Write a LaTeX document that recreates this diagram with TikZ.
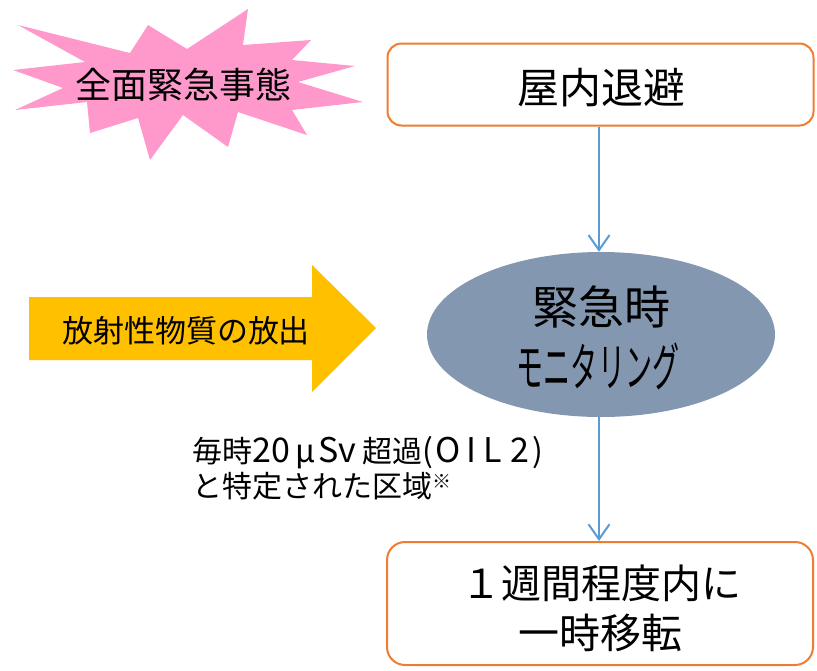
\documentclass[tikz,border=0pt]{standalone}
\usepackage{fontspec}
\usetikzlibrary{arrows.meta,shapes.geometric}
\newfontfamily\jp{Noto Sans CJK JP}
\definecolor{burstpink}{HTML}{FF99CC}
\definecolor{relyellow}{HTML}{FFC000}
\definecolor{ellfill}{HTML}{8497B0}
\definecolor{boxorange}{HTML}{ED7D31}
\definecolor{flowblue}{HTML}{5B9BD5}
\newcommand{\fs}[1]{\fontsize{#1pt}{#1pt}\selectfont}
\newcommand{\cell}[2]{\makebox[#1pt]{#2}}
\tikzset{
  stepbox/.style={draw=boxorange, line width=2pt, rounded corners=14pt, fill=white, inner sep=0pt},
  flow/.style={draw=flowblue, line width=2pt, -{Straight Barb[length=15pt,width=21pt,line width=2pt]}},
  txt/.style={inner sep=0pt, text=black, font=\jp},
}
\begin{document}
\begin{tikzpicture}[x=1pt,y=-1pt]
\useasboundingbox (0,0) rectangle (817,670);
% starburst
\fill[burstpink] (18,25) -- (130,53) -- (148,25) -- (187,49) -- (248,9) -- (243,45) -- (311,40) -- (292,60) -- (355,66) -- (298,82) -- (363,102) -- (292,110) -- (307,135) -- (238,112) -- (228,147) -- (183,115) -- (150,160) -- (138,118) -- (90,133) -- (87,102) -- (15,110) -- (63,88) -- (13,70) -- (85,62) -- cycle;
\node[txt, font=\jp\fs{36}] (burst) at (183,85) {全面緊急事態};
% release arrow
\fill[relyellow] (29,297) -- (312,297) -- (312,265) -- (376,328) -- (312,392) -- (312,360) -- (29,360) -- cycle;
\node[txt, font=\jp\fs{31}] (rel) at (186,331) {放射性物質の放出};
% boxes
\node[stepbox, minimum width=426pt, minimum height=82pt] (b1) at (600.5,84.5) {};
\node[txt, font=\jp\fs{42}] (b1t) at (601,88) {屋内退避};
\node[stepbox, rounded corners=18pt, minimum width=426pt, minimum height=123pt] (b2) at (600,603.5) {};
\node[txt, font=\jp\fs{40}] (b2a) at (601,583) {１週間程度内に};
\node[txt, font=\jp\fs{41}] (b2b) at (600,633) {一時移転};
% ellipse
\node[ellipse, fill=ellfill, minimum width=348pt, minimum height=165pt, inner sep=0pt] (ell) at (601,334.5) {};
\node[txt, font=\jp\fs{46}] (e1) at (601,307) {緊急時};
\node[txt] (e2) at (598,366) {\scalebox{0.52}[1]{\jp\fs{52}モニタリング}};
% note
\node[txt, font=\jp\fs{30}, anchor=west] (n1) at (192,453) {毎時\makebox[40pt][l]{\fs{34}20}\cell{26}{\fs{32}μ}\makebox[44pt][l]{\fs{34}Sv}超過\cell{12}{\fs{32}(}\cell{28}{\fs{34}O}\cell{18}{\fs{34}I}\cell{26}{\fs{34}L}\cell{27}{\fs{34}2}\cell{10}{\fs{32})}};
\node[txt, font=\jp\fs{30}, anchor=west] (n2) at (192,486) {と特定された区域\raisebox{9pt}{\fs{19}※}};
% connectors
\draw[flow] (b1.south -| 599,0) -- (ell.north -| 599,0);
\draw[flow] (ell.south -| 599,0) -- (b2.north -| 599,0);
\end{tikzpicture}
\end{document}
